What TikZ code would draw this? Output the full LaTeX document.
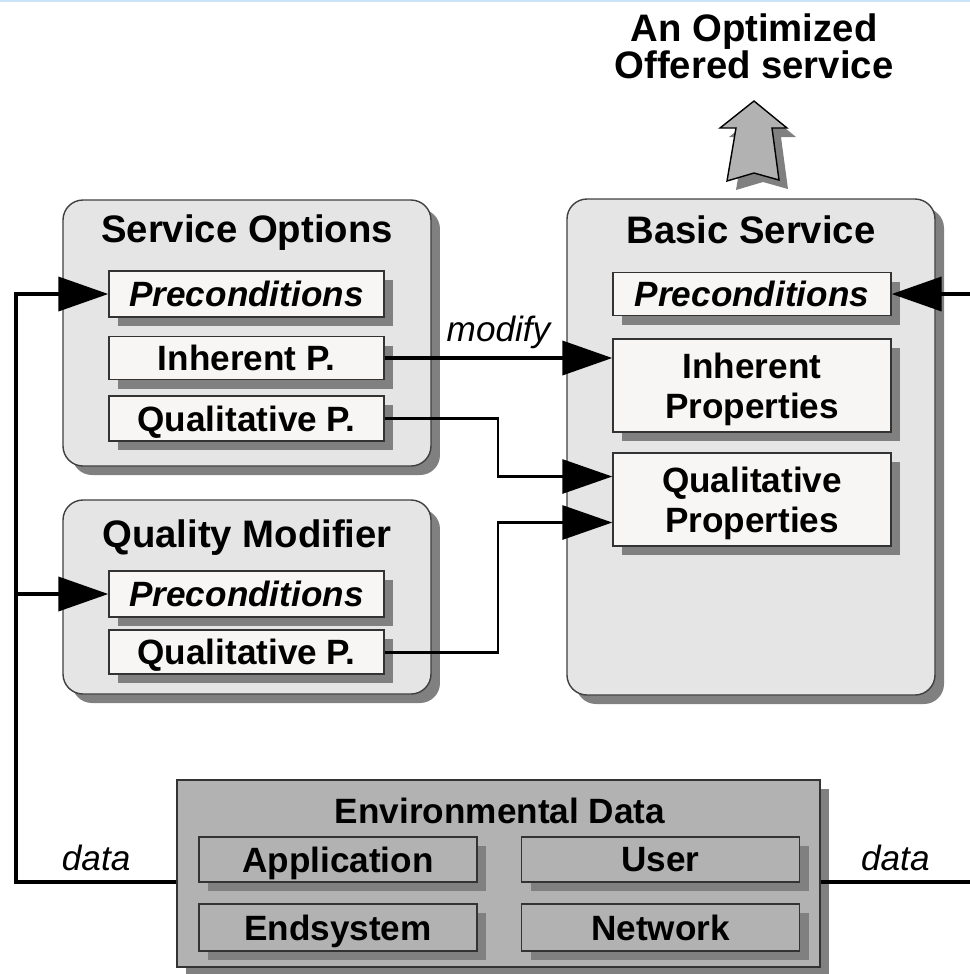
\documentclass[tikz,border=0pt]{standalone}
\usepackage{fontspec}
\setmainfont{Liberation Sans}
\usetikzlibrary{arrows.meta, shadows, calc}

\definecolor{panelgray}{gray}{0.9}
\definecolor{boxwhite}{RGB}{247,246,244}
\definecolor{envgray}{gray}{0.7}
\definecolor{shadegray}{gray}{0.5}
\definecolor{edgeblue}{RGB}{204,228,250}

\newcommand{\titlefont}{\fontsize{10.9}{10.5}\selectfont\bfseries}
\newcommand{\boxfont}{\fontsize{10}{11.4}\selectfont\bfseries}
\newcommand{\tagfont}{\fontsize{10}{12}\selectfont\itshape}

\begin{document}
\begin{tikzpicture}[
    x=0.1mm, y=-0.1mm, % one unit per pixel, y running down
    >={Triangle[length=5mm, width=3.4mm]}, % big black arrow heads
    castshadow/.style={drop shadow={shadow xshift=0.9mm, shadow yshift=-0.9mm, fill=shadegray, opacity=1}},
    panel/.style={draw=black!75, fill=panelgray, rounded corners=2mm, minimum width=36.8mm, castshadow},
    prop/.style={draw=black!80, fill=boxwhite, minimum width=27.5mm, inner sep=0pt, text depth=0pt, font=\boxfont, castshadow},
    envpart/.style={draw=black!80, fill=envgray, minimum width=27.8mm, minimum height=4.5mm, inner sep=0pt, text depth=0pt, font=\boxfont, castshadow},
    paneltitle/.style={font=\titlefont, anchor=base, inner sep=0pt},
    wire/.style={line width=1.1pt, line join=miter},
    route/.style={line width=0.85pt, line join=miter},
    tag/.style={font=\tagfont, anchor=base, inner sep=0pt}
]

\useasboundingbox (0,0) rectangle (970,974);
\draw[edgeblue, line width=0.25mm] (0,1) -- (970,1);

% Result on top
\node[font=\titlefont, align=center, anchor=north, inner sep=0pt] (result) at (754,13) {An Optimized\\Offered service};
\draw[fill=envgray, draw=black, line width=0.4pt, castshadow]
    (754,101) -- (787,128) -- (772,128) -- (779,180) -- (754,173)
    -- (727,181) -- (736,128) -- (720,128) -- cycle;

% Panels
\node[panel, minimum height=26.6mm] (so) at (247,333) {};
\node[panel, minimum height=19.4mm] (qm) at (247,597) {};
\node[panel, minimum height=49.6mm] (bs) at (751,447) {};
\node[draw=black!80, fill=envgray, minimum width=64.3mm, minimum height=18.7mm, castshadow] (env) at (498.5,873.5) {};

\node[paneltitle] (so-title) at (247,242) {Service Options};
\node[paneltitle] (qm-title) at (247,547) {Quality Modifier};
\node[paneltitle] (bs-title) at (751,243) {Basic Service};
\node[paneltitle, font=\boxfont] (env-title) at (500,823) {Environmental Data};

% Service Options
\node[prop, minimum height=4.6mm, font=\boxfont\itshape] (so-pre) at (246.5,294) {Preconditions};
\node[prop, minimum height=4.3mm] (so-inh) at (246.5,358) {Inherent P.};
\node[prop, minimum height=4.5mm] (so-qual) at (246.5,418.5) {Qualitative P.};

% Quality Modifier
\node[prop, minimum height=4.6mm, font=\boxfont\itshape] (qm-pre) at (246.5,594) {Preconditions};
\node[prop, minimum height=4.4mm] (qm-qual) at (246.5,652) {Qualitative P.};

% Basic Service
\node[prop, minimum width=27.8mm, minimum height=4.3mm, font=\boxfont\itshape] (bs-pre) at (752,294) {Preconditions};
\node[prop, minimum width=27.8mm, minimum height=9.3mm, align=center] (bs-inh) at (752,385.5) {Inherent\\Properties};
\node[prop, minimum width=27.8mm, minimum height=9.3mm, align=center] (bs-qual) at (752,499.5) {Qualitative\\Properties};

% Environmental Data
\node[envpart] (app) at (338,859.5) {Application};
\node[envpart] (user) at (660.5,859.5) {User};
\node[envpart, minimum height=4.7mm] (endsys) at (338,927.5) {Endsystem};
\node[envpart, minimum height=4.7mm] (net) at (660.5,927.5) {Network};

% Wiring
\coordinate (lbot) at (16,882);
\coordinate (rbot) at (970,882);
\coordinate (rtop) at (970,294);
\coordinate (bend) at (498,0);
\coordinate (qin1) at ([yshift=2.3mm]bs-qual.west);
\coordinate (qin2) at ([yshift=-2.3mm]bs-qual.west);

\draw[wire, ->] (env.west |- lbot) -- node[tag, midway, yshift=1.2mm] {data} (lbot) |- (so-pre.west);
\draw[wire, ->] (lbot |- qm-pre.west) -- (qm-pre.west);
\draw[wire] (env.east |- rbot) -- node[tag, midway, yshift=1.2mm] {data} (rbot);
\draw[wire, ->] (rtop) -- (bs-pre.east);

\draw[wire, ->] (so-inh.east) -- node[tag, midway, yshift=1.7mm] {modify} (so-inh.east -| bs-inh.west);
\draw[route, ->] (so-qual.east) -| (bend |- qin1) -- (qin1);
\draw[route, ->] (qm-qual.east) -| (bend |- qin2) -- (qin2);

\end{tikzpicture}
\end{document}
